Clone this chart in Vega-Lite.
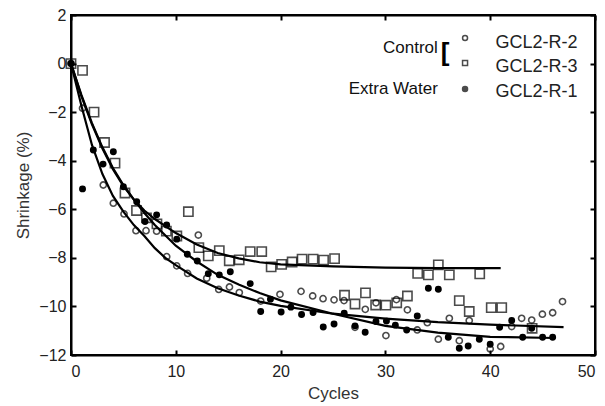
{
  "$schema": "https://vega.github.io/schema/vega-lite/v6.json",
  "width": 524,
  "height": 340,
  "autosize": {"type": "none"},
  "padding": {"left": 71, "top": 15, "right": 10, "bottom": 51},
  "background": "white",
  "config": {
    "view": {"stroke": "black", "strokeWidth": 2},
    "axis": {
      "labelFont": "Liberation Sans",
      "titleFont": "Liberation Sans",
      "labelFontSize": 16,
      "titleFontSize": 17,
      "titleFontWeight": "normal",
      "labelColor": "#222",
      "titleColor": "#333",
      "domainColor": "black",
      "domainWidth": 2,
      "tickColor": "black",
      "tickWidth": 2,
      "tickSize": -5,
      "grid": false
    }
  },
  "datasets": {
    "pts": [
      {"s": "GCL2-R-3", "x": 0, "y": 0},
      {"s": "GCL2-R-3", "x": 1.1, "y": -0.28},
      {"s": "GCL2-R-3", "x": 2.2, "y": -2.0},
      {"s": "GCL2-R-3", "x": 3.2, "y": -3.25},
      {"s": "GCL2-R-3", "x": 4.2, "y": -4.1},
      {"s": "GCL2-R-3", "x": 5.15, "y": -5.33},
      {"s": "GCL2-R-3", "x": 6.25, "y": -6.05},
      {"s": "GCL2-R-3", "x": 7.2, "y": -6.35},
      {"s": "GCL2-R-3", "x": 8.2, "y": -6.6},
      {"s": "GCL2-R-3", "x": 9.1, "y": -6.9},
      {"s": "GCL2-R-3", "x": 10.1, "y": -7.1},
      {"s": "GCL2-R-3", "x": 11.2, "y": -6.1},
      {"s": "GCL2-R-3", "x": 12.2, "y": -7.58},
      {"s": "GCL2-R-3", "x": 13.1, "y": -7.92},
      {"s": "GCL2-R-3", "x": 14.15, "y": -7.7},
      {"s": "GCL2-R-3", "x": 15.1, "y": -8.12},
      {"s": "GCL2-R-3", "x": 16.05, "y": -8.08},
      {"s": "GCL2-R-3", "x": 17.1, "y": -7.74},
      {"s": "GCL2-R-3", "x": 18.2, "y": -7.74},
      {"s": "GCL2-R-3", "x": 19.1, "y": -8.37},
      {"s": "GCL2-R-3", "x": 20.1, "y": -8.27},
      {"s": "GCL2-R-3", "x": 21.1, "y": -8.17},
      {"s": "GCL2-R-3", "x": 22.05, "y": -8.05},
      {"s": "GCL2-R-3", "x": 23.1, "y": -8.05},
      {"s": "GCL2-R-3", "x": 24.1, "y": -8.09},
      {"s": "GCL2-R-3", "x": 25.15, "y": -8.03},
      {"s": "GCL2-R-3", "x": 26.1, "y": -9.54},
      {"s": "GCL2-R-3", "x": 27.1, "y": -9.9},
      {"s": "GCL2-R-3", "x": 28.1, "y": -9.44},
      {"s": "GCL2-R-3", "x": 29.07, "y": -9.94},
      {"s": "GCL2-R-3", "x": 30.05, "y": -9.95},
      {"s": "GCL2-R-3", "x": 31.08, "y": -9.85},
      {"s": "GCL2-R-3", "x": 32.1, "y": -9.57},
      {"s": "GCL2-R-3", "x": 33.08, "y": -8.64},
      {"s": "GCL2-R-3", "x": 34.1, "y": -8.7},
      {"s": "GCL2-R-3", "x": 35.05, "y": -8.29},
      {"s": "GCL2-R-3", "x": 36.1, "y": -8.7},
      {"s": "GCL2-R-3", "x": 37.05, "y": -9.76},
      {"s": "GCL2-R-3", "x": 38.0, "y": -10.21},
      {"s": "GCL2-R-3", "x": 39.0, "y": -8.66},
      {"s": "GCL2-R-3", "x": 40.1, "y": -10.05},
      {"s": "GCL2-R-3", "x": 41.1, "y": -10.05},
      {"s": "GCL2-R-3", "x": 44.0, "y": -10.9},

      {"s": "GCL2-R-2", "x": 0, "y": 0},
      {"s": "GCL2-R-2", "x": 1.1, "y": -1.84},
      {"s": "GCL2-R-2", "x": 3.08, "y": -5.0},
      {"s": "GCL2-R-2", "x": 4.04, "y": -5.75},
      {"s": "GCL2-R-2", "x": 5.06, "y": -6.19},
      {"s": "GCL2-R-2", "x": 6.2, "y": -6.88},
      {"s": "GCL2-R-2", "x": 7.16, "y": -6.88},
      {"s": "GCL2-R-2", "x": 8.17, "y": -6.9},
      {"s": "GCL2-R-2", "x": 9.13, "y": -7.95},
      {"s": "GCL2-R-2", "x": 10.09, "y": -8.33},
      {"s": "GCL2-R-2", "x": 11.13, "y": -8.64},
      {"s": "GCL2-R-2", "x": 12.15, "y": -7.06},
      {"s": "GCL2-R-2", "x": 12.95, "y": -8.84},
      {"s": "GCL2-R-2", "x": 14.1, "y": -9.3},
      {"s": "GCL2-R-2", "x": 15.12, "y": -9.2},
      {"s": "GCL2-R-2", "x": 16.06, "y": -9.43},
      {"s": "GCL2-R-2", "x": 18.1, "y": -9.78},
      {"s": "GCL2-R-2", "x": 19.94, "y": -9.5},
      {"s": "GCL2-R-2", "x": 21.95, "y": -9.38},
      {"s": "GCL2-R-2", "x": 23.06, "y": -9.57},
      {"s": "GCL2-R-2", "x": 24.05, "y": -9.68},
      {"s": "GCL2-R-2", "x": 25.1, "y": -9.73},
      {"s": "GCL2-R-2", "x": 26.05, "y": -9.76},
      {"s": "GCL2-R-2", "x": 27.1, "y": -10.86},
      {"s": "GCL2-R-2", "x": 28.08, "y": -10.12},
      {"s": "GCL2-R-2", "x": 29.1, "y": -9.85},
      {"s": "GCL2-R-2", "x": 30.05, "y": -11.2},
      {"s": "GCL2-R-2", "x": 31.05, "y": -9.72},
      {"s": "GCL2-R-2", "x": 32.1, "y": -10.14},
      {"s": "GCL2-R-2", "x": 33.04, "y": -10.97},
      {"s": "GCL2-R-2", "x": 34.0, "y": -10.67},
      {"s": "GCL2-R-2", "x": 35.05, "y": -11.35},
      {"s": "GCL2-R-2", "x": 36.1, "y": -10.49},
      {"s": "GCL2-R-2", "x": 37.05, "y": -11.41},
      {"s": "GCL2-R-2", "x": 38.0, "y": -10.58},
      {"s": "GCL2-R-2", "x": 40.0, "y": -11.75},
      {"s": "GCL2-R-2", "x": 41.0, "y": -11.65},
      {"s": "GCL2-R-2", "x": 42.05, "y": -10.83},
      {"s": "GCL2-R-2", "x": 43.0, "y": -10.49},
      {"s": "GCL2-R-2", "x": 43.96, "y": -10.56},
      {"s": "GCL2-R-2", "x": 44.98, "y": -10.32},
      {"s": "GCL2-R-2", "x": 45.96, "y": -10.26},
      {"s": "GCL2-R-2", "x": 46.9, "y": -9.8},

      {"s": "GCL2-R-1", "x": 0, "y": 0},
      {"s": "GCL2-R-1", "x": 1.1, "y": -5.16},
      {"s": "GCL2-R-1", "x": 2.13, "y": -3.56},
      {"s": "GCL2-R-1", "x": 3.06, "y": -4.14},
      {"s": "GCL2-R-1", "x": 4.04, "y": -3.63},
      {"s": "GCL2-R-1", "x": 5.0, "y": -5.07},
      {"s": "GCL2-R-1", "x": 6.27, "y": -5.69},
      {"s": "GCL2-R-1", "x": 7.06, "y": -6.5},
      {"s": "GCL2-R-1", "x": 8.17, "y": -6.23},
      {"s": "GCL2-R-1", "x": 9.13, "y": -6.65},
      {"s": "GCL2-R-1", "x": 10.09, "y": -7.23},
      {"s": "GCL2-R-1", "x": 11.1, "y": -7.85},
      {"s": "GCL2-R-1", "x": 12.05, "y": -8.13},
      {"s": "GCL2-R-1", "x": 13.1, "y": -8.65},
      {"s": "GCL2-R-1", "x": 14.15, "y": -8.7},
      {"s": "GCL2-R-1", "x": 15.2, "y": -8.57},
      {"s": "GCL2-R-1", "x": 17.1, "y": -9.06},
      {"s": "GCL2-R-1", "x": 18.1, "y": -10.21},
      {"s": "GCL2-R-1", "x": 19.03, "y": -9.7},
      {"s": "GCL2-R-1", "x": 20.05, "y": -10.23},
      {"s": "GCL2-R-1", "x": 20.98, "y": -10.03},
      {"s": "GCL2-R-1", "x": 22.0, "y": -10.33},
      {"s": "GCL2-R-1", "x": 23.1, "y": -10.25},
      {"s": "GCL2-R-1", "x": 24.07, "y": -10.85},
      {"s": "GCL2-R-1", "x": 25.1, "y": -10.72},
      {"s": "GCL2-R-1", "x": 26.07, "y": -10.28},
      {"s": "GCL2-R-1", "x": 27.1, "y": -10.8},
      {"s": "GCL2-R-1", "x": 28.07, "y": -11.06},
      {"s": "GCL2-R-1", "x": 29.1, "y": -10.62},
      {"s": "GCL2-R-1", "x": 30.1, "y": -10.6},
      {"s": "GCL2-R-1", "x": 30.95, "y": -10.77},
      {"s": "GCL2-R-1", "x": 32.03, "y": -10.97},
      {"s": "GCL2-R-1", "x": 33.04, "y": -10.39},
      {"s": "GCL2-R-1", "x": 34.1, "y": -9.25},
      {"s": "GCL2-R-1", "x": 35.05, "y": -9.29},
      {"s": "GCL2-R-1", "x": 36.0, "y": -11.27},
      {"s": "GCL2-R-1", "x": 37.05, "y": -11.72},
      {"s": "GCL2-R-1", "x": 37.9, "y": -11.63},
      {"s": "GCL2-R-1", "x": 38.96, "y": -11.35},
      {"s": "GCL2-R-1", "x": 40.0, "y": -11.56},
      {"s": "GCL2-R-1", "x": 40.9, "y": -10.86},
      {"s": "GCL2-R-1", "x": 42.05, "y": -10.58},
      {"s": "GCL2-R-1", "x": 43.1, "y": -11.27},
      {"s": "GCL2-R-1", "x": 43.96, "y": -10.9},
      {"s": "GCL2-R-1", "x": 45.0, "y": -11.27},
      {"s": "GCL2-R-1", "x": 45.96, "y": -11.27}
    ],
    "fit": [
      {"s": "GCL2-R-2", "x": 0, "y": 0},
      {"s": "GCL2-R-2", "x": 1, "y": -1.75},
      {"s": "GCL2-R-2", "x": 2, "y": -3.35},
      {"s": "GCL2-R-2", "x": 3, "y": -4.55},
      {"s": "GCL2-R-2", "x": 4, "y": -5.45},
      {"s": "GCL2-R-2", "x": 5, "y": -6.1},
      {"s": "GCL2-R-2", "x": 6, "y": -6.65},
      {"s": "GCL2-R-2", "x": 7, "y": -7.1},
      {"s": "GCL2-R-2", "x": 8, "y": -7.6},
      {"s": "GCL2-R-2", "x": 9, "y": -8.0},
      {"s": "GCL2-R-2", "x": 10, "y": -8.3},
      {"s": "GCL2-R-2", "x": 12, "y": -8.85},
      {"s": "GCL2-R-2", "x": 14, "y": -9.25},
      {"s": "GCL2-R-2", "x": 16, "y": -9.55},
      {"s": "GCL2-R-2", "x": 18, "y": -9.8},
      {"s": "GCL2-R-2", "x": 20, "y": -9.98},
      {"s": "GCL2-R-2", "x": 25, "y": -10.3},
      {"s": "GCL2-R-2", "x": 30, "y": -10.5},
      {"s": "GCL2-R-2", "x": 35, "y": -10.65},
      {"s": "GCL2-R-2", "x": 40, "y": -10.75},
      {"s": "GCL2-R-2", "x": 47, "y": -10.85},

      {"s": "GCL2-R-1", "x": 0, "y": 0},
      {"s": "GCL2-R-1", "x": 1, "y": -1.3},
      {"s": "GCL2-R-1", "x": 2, "y": -2.45},
      {"s": "GCL2-R-1", "x": 3, "y": -3.45},
      {"s": "GCL2-R-1", "x": 4, "y": -4.3},
      {"s": "GCL2-R-1", "x": 5, "y": -5.0},
      {"s": "GCL2-R-1", "x": 6, "y": -5.6},
      {"s": "GCL2-R-1", "x": 7, "y": -6.15},
      {"s": "GCL2-R-1", "x": 8, "y": -6.65},
      {"s": "GCL2-R-1", "x": 10, "y": -7.5},
      {"s": "GCL2-R-1", "x": 12, "y": -8.15},
      {"s": "GCL2-R-1", "x": 14, "y": -8.7},
      {"s": "GCL2-R-1", "x": 16, "y": -9.1},
      {"s": "GCL2-R-1", "x": 18, "y": -9.45},
      {"s": "GCL2-R-1", "x": 20, "y": -9.75},
      {"s": "GCL2-R-1", "x": 25, "y": -10.3},
      {"s": "GCL2-R-1", "x": 30, "y": -10.8},
      {"s": "GCL2-R-1", "x": 35, "y": -11.08},
      {"s": "GCL2-R-1", "x": 40, "y": -11.25},
      {"s": "GCL2-R-1", "x": 46.2, "y": -11.3},

      {"s": "GCL2-R-3", "x": 0, "y": 0},
      {"s": "GCL2-R-3", "x": 1, "y": -1.35},
      {"s": "GCL2-R-3", "x": 2, "y": -2.5},
      {"s": "GCL2-R-3", "x": 3, "y": -3.5},
      {"s": "GCL2-R-3", "x": 4, "y": -4.35},
      {"s": "GCL2-R-3", "x": 5, "y": -5.05},
      {"s": "GCL2-R-3", "x": 6, "y": -5.6},
      {"s": "GCL2-R-3", "x": 7, "y": -6.05},
      {"s": "GCL2-R-3", "x": 8, "y": -6.4},
      {"s": "GCL2-R-3", "x": 10, "y": -6.98},
      {"s": "GCL2-R-3", "x": 12, "y": -7.45},
      {"s": "GCL2-R-3", "x": 14, "y": -7.8},
      {"s": "GCL2-R-3", "x": 16, "y": -8.02},
      {"s": "GCL2-R-3", "x": 18, "y": -8.18},
      {"s": "GCL2-R-3", "x": 20, "y": -8.27},
      {"s": "GCL2-R-3", "x": 25, "y": -8.35},
      {"s": "GCL2-R-3", "x": 30, "y": -8.4},
      {"s": "GCL2-R-3", "x": 35, "y": -8.42},
      {"s": "GCL2-R-3", "x": 41, "y": -8.42}
    ],
    "groups": [
      {"t": "Control", "x": 35.0, "y": 0.64},
      {"t": "Extra Water", "x": 35.0, "y": -1.05}
    ],
    "names": [
      {"t": "GCL2-R-2", "x": 40.5, "y": 0.85},
      {"t": "GCL2-R-3", "x": 40.5, "y": -0.14},
      {"t": "GCL2-R-1", "x": 40.5, "y": -1.17}
    ],
    "keys": [
      {"s": "GCL2-R-2", "x": 37.6, "y": 1.05},
      {"s": "GCL2-R-3", "x": 37.6, "y": 0.02},
      {"s": "GCL2-R-1", "x": 37.6, "y": -1.05}
    ],
    "bracket": [
      {"t": "[", "x": 35.7, "y": 0.45}
    ]
  },
  "layer": [
    {
      "data": {"name": "fit"},
      "mark": {"type": "line", "color": "black", "strokeWidth": 2.2},
      "encoding": {
        "x": {"field": "x", "type": "quantitative", "scale": {"domain": [0, 50], "nice": false},
              "axis": {"orient": "bottom", "title": "Cycles", "values": [0, 10, 20, 30, 40, 50], "labelPadding": 13, "titlePadding": 6}},
        "y": {"field": "y", "type": "quantitative", "scale": {"domain": [-12, 2], "nice": false, "zero": false},
              "axis": {"orient": "left", "title": "Shrinkage (%)", "values": [-12, -10, -8, -6, -4, -2, 0, 2], "labelPadding": 10, "titlePadding": 6}},
        "detail": {"field": "s"}
      }
    },
    {
      "data": {"name": "fit"},
      "mark": {"type": "line", "opacity": 0},
      "encoding": {
        "x": {"field": "x", "type": "quantitative",
              "axis": {"orient": "top", "title": null, "labels": false, "values": [0, 10, 20, 30, 40, 50]}},
        "y": {"field": "y", "type": "quantitative",
              "axis": {"orient": "right", "title": null, "labels": false, "values": [-12, -10, -8, -6, -4, -2, 0, 2]}},
        "detail": {"field": "s"}
      }
    },
    {
      "data": {"name": "pts"},
      "transform": [{"filter": "datum.s === 'GCL2-R-3'"}],
      "mark": {"type": "point", "shape": "square", "filled": false, "color": "black", "size": 85, "strokeWidth": 1.6},
      "encoding": {
        "x": {"field": "x", "type": "quantitative", "axis": null},
        "y": {"field": "y", "type": "quantitative", "axis": null}
      }
    },
    {
      "data": {"name": "pts"},
      "transform": [{"filter": "datum.s === 'GCL2-R-2'"}],
      "mark": {"type": "point", "shape": "circle", "filled": false, "color": "black", "size": 38, "strokeWidth": 1.6},
      "encoding": {
        "x": {"field": "x", "type": "quantitative", "axis": null},
        "y": {"field": "y", "type": "quantitative", "axis": null}
      }
    },
    {
      "data": {"name": "pts"},
      "transform": [{"filter": "datum.s === 'GCL2-R-1'"}],
      "mark": {"type": "point", "shape": "circle", "filled": true, "color": "black", "opacity": 1, "size": 48},
      "encoding": {
        "x": {"field": "x", "type": "quantitative", "axis": null},
        "y": {"field": "y", "type": "quantitative", "axis": null}
      }
    },
    {
      "data": {"name": "groups"},
      "mark": {"type": "text", "align": "right", "baseline": "middle", "font": "Liberation Sans", "fontSize": 17, "color": "#111"},
      "encoding": {
        "x": {"field": "x", "type": "quantitative", "axis": null},
        "y": {"field": "y", "type": "quantitative", "axis": null},
        "text": {"field": "t"}
      }
    },
    {
      "data": {"name": "names"},
      "mark": {"type": "text", "align": "left", "baseline": "middle", "font": "Liberation Sans", "fontSize": 18, "color": "#222"},
      "encoding": {
        "x": {"field": "x", "type": "quantitative", "axis": null},
        "y": {"field": "y", "type": "quantitative", "axis": null},
        "text": {"field": "t"}
      }
    },
    {
      "data": {"name": "bracket"},
      "mark": {"type": "text", "align": "center", "baseline": "middle", "font": "Liberation Sans", "fontSize": 26, "fontWeight": "bold", "color": "black"},
      "encoding": {
        "x": {"field": "x", "type": "quantitative", "axis": null},
        "y": {"field": "y", "type": "quantitative", "axis": null},
        "text": {"field": "t"}
      }
    },
    {
      "data": {"name": "keys"},
      "mark": {"type": "point", "color": "black", "size": 25, "strokeWidth": 1.5},
      "encoding": {
        "x": {"field": "x", "type": "quantitative", "axis": null},
        "y": {"field": "y", "type": "quantitative", "axis": null},
        "shape": {"field": "s", "type": "nominal", "scale": {"domain": ["GCL2-R-2", "GCL2-R-3", "GCL2-R-1"], "range": ["circle", "square", "circle"]}, "legend": null},
        "fill": {"field": "s", "type": "nominal", "scale": {"domain": ["GCL2-R-2", "GCL2-R-3", "GCL2-R-1"], "range": ["transparent", "transparent", "black"]}, "legend": null}
      }
    }
  ],
  "resolve": {"axis": {"x": "independent", "y": "independent"}}
}
